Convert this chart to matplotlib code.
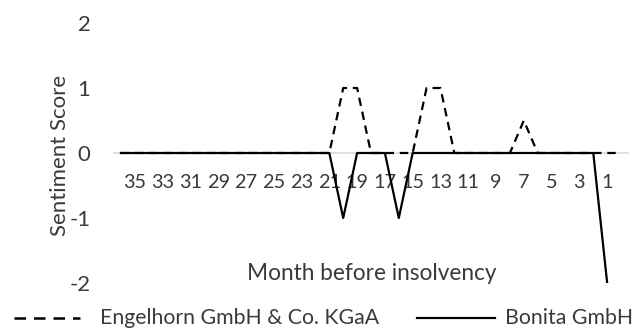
import matplotlib
matplotlib.use("Agg")
import matplotlib.pyplot as plt
from matplotlib.lines import Line2D

months = list(range(36, -1, -1))
eng_vals = {20: 1, 19: 1, 14: 1, 13: 1, 7: 0.5}
bon_vals = {20: -1, 16: -1, 1: -2}
engelhorn = [eng_vals.get(m, 0) for m in months]
bonita = [bon_vals.get(m, 0) for m in months[:-1]]
tick_months = list(range(35, 0, -2))
yticks = [-2, -1, 0, 1, 2]
series_names = ['Engelhorn GmbH & Co. KGaA', 'Bonita GmbH']

plt.rcParams['font.family'] = ['Lato', 'DejaVu Sans']
text_color = '#3a3a3a'
FS = 16.0
DASH = (0, (3.8, 2.6))

W, H = 639, 332
fig = plt.figure(figsize=(W/100, H/100), dpi=100)
ax = fig.add_axes([114/W, 1-283/H, (628-114)/W, (283-23)/H])

x_all = [36 - m for m in months]
ax.plot(x_all, engelhorn, color='black', lw=1.6, linestyle=DASH, zorder=3)
ax.plot(x_all[:-1], bonita, color='black', lw=1.6, zorder=4)

ax.set_xlim(-0.5, 36.5)
ax.set_ylim(-2, 2)
ax.set_yticks(yticks)
ax.set_yticklabels([str(v) for v in yticks])
ax.set_xticks([36 - m for m in tick_months])
ax.set_xticklabels([str(m) for m in tick_months])

for s in ['top', 'right', 'left']:
    ax.spines[s].set_visible(False)
ax.spines['bottom'].set_position(('data', 0))
ax.spines['bottom'].set_color('#d9d9d9')
ax.spines['bottom'].set_linewidth(1.2)
ax.spines['bottom'].set_zorder(1)
ax.tick_params(axis='x', length=0, pad=15, labelsize=14.3, colors=text_color)
ax.tick_params(axis='y', length=0, pad=17, labelsize=FS, colors=text_color)

fig.text(60/W, 1-155/H, 'Sentiment Score', rotation=90, ha='center', va='center',
         fontsize=FS, color=text_color)
fig.text(372/W, 1-273/H, 'Month before insolvency', ha='center', va='center',
         fontsize=16.3, color=text_color)

# legend (manual placement)
ly = 1 - 318/H
LFS = 15.3
fig.add_artist(Line2D([14/W, 80/W], [ly, ly], transform=fig.transFigure,
                      color='black', lw=1.8, linestyle=(0, (4.6, 3.2))))
fig.text(100/W, ly, series_names[0], ha='left', va='center', fontsize=LFS, color=text_color)
fig.add_artist(Line2D([417/W, 495/W], [ly, ly], transform=fig.transFigure,
                      color='black', lw=1.6))
fig.text(505/W, ly, series_names[1], ha='left', va='center', fontsize=LFS, color=text_color)

fig.savefig('out.png', dpi=100)
